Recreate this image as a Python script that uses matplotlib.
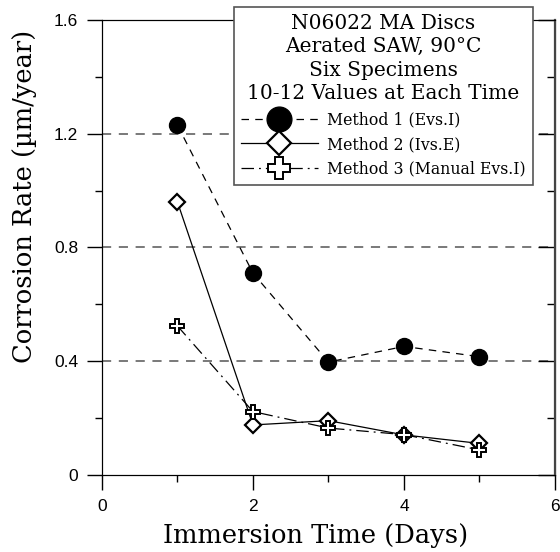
import matplotlib.pyplot as plt
from matplotlib.ticker import MultipleLocator

# data
days = [1, 2, 3, 4, 5]
method1 = [1.23, 0.71, 0.397, 0.452, 0.416]
method2 = [0.96, 0.176, 0.191, 0.141, 0.111]
method3 = [0.524, 0.223, 0.165, 0.142, 0.088]

serif = 'DejaVu Serif'
sans = 'Liberation Sans'

fig = plt.figure(figsize=(5.6, 5.52), dpi=100)
ax = fig.add_axes([0.182, 0.1395, 0.809, 0.8245])

# dashed grid lines at the major y values
for yv in [0.4, 0.8, 1.2]:
    ax.axhline(yv, color='#555555', lw=1.1, ls=(0, (6, 5)), zorder=0)

ax.plot(days, method1, color='black', lw=0.9, ls=(0, (6, 5)),
        marker='o', ms=11.5, mfc='black', mec='black', label='Method 1 (Evs.I)')
ax.plot(days, method2, color='black', lw=0.9, ls='-',
        marker='D', ms=8, mfc='white', mec='black', mew=1.6, label='Method 2 (Ivs.E)')
ax.plot(days, method3, color='black', lw=0.9, ls=(0, (10, 4, 1.5, 4)),
        marker='P', ms=10, mfc='white', mec='black', mew=1.4,
        label='Method 3 (Manual Evs.I)')

ax.set_xlim(0, 6)
ax.set_ylim(0, 1.6)
ax.set_xticks([0, 2, 4, 6])
ax.set_xticklabels(['0', '2', '4', '6'])
ax.xaxis.set_minor_locator(MultipleLocator(1))
ax.set_yticks([0, 0.4, 0.8, 1.2, 1.6])
ax.set_yticklabels(['0', '0.4', '0.8', '1.2', '1.6'])
ax.yaxis.set_minor_locator(MultipleLocator(0.2))

ax.tick_params(axis='both', which='major', direction='out', length=11, width=1,
               labelsize=12.5, pad=6)
ax.tick_params(axis='both', which='minor', direction='out', length=5, width=1)
for lab in ax.get_xticklabels() + ax.get_yticklabels():
    lab.set_family(sans)

# mirrored inward ticks on the right side
ax2 = ax.twinx()
ax2.set_ylim(0, 1.6)
ax2.set_yticks([0, 0.4, 0.8, 1.2, 1.6])
ax2.yaxis.set_minor_locator(MultipleLocator(0.2))
ax2.tick_params(axis='y', which='major', direction='in', length=12, width=1, labelright=False)
ax2.tick_params(axis='y', which='minor', direction='in', length=6, width=1)
ax2.spines['right'].set_color('#444444')
ax2.spines['right'].set_linewidth(1.6)

ax.set_xlabel('Immersion Time (Days)', family=serif, fontsize=18.5)
ax.set_ylabel('Corrosion Rate (\u00b5m/year)', family=serif, fontsize=18.5)
ax.xaxis.set_label_coords(0.472, -0.105)
ax.yaxis.set_label_coords(-0.143, 0.611)

leg = ax2.legend(*ax.get_legend_handles_labels(),
                 title='N06022 MA Discs\nAerated SAW, 90\u00b0C\nSix Specimens\n10-12 Values at Each Time',
                 loc='upper right', bbox_to_anchor=(0.951, 1.029), fancybox=False,
                 framealpha=1, edgecolor='#555555', handlelength=4.9,
                 markerscale=1.55, borderpad=0.45, labelspacing=0.5,
                 handletextpad=0.6, borderaxespad=0,
                 prop={'family': serif, 'size': 11.3},
                 title_fontproperties={'family': serif, 'size': 14.5})
leg.get_title().set_multialignment('center')
leg.get_title().set_linespacing(1.3)
leg.get_frame().set_linewidth(1.2)
leg.set_zorder(10)

plt.savefig('out.png', dpi=100)
